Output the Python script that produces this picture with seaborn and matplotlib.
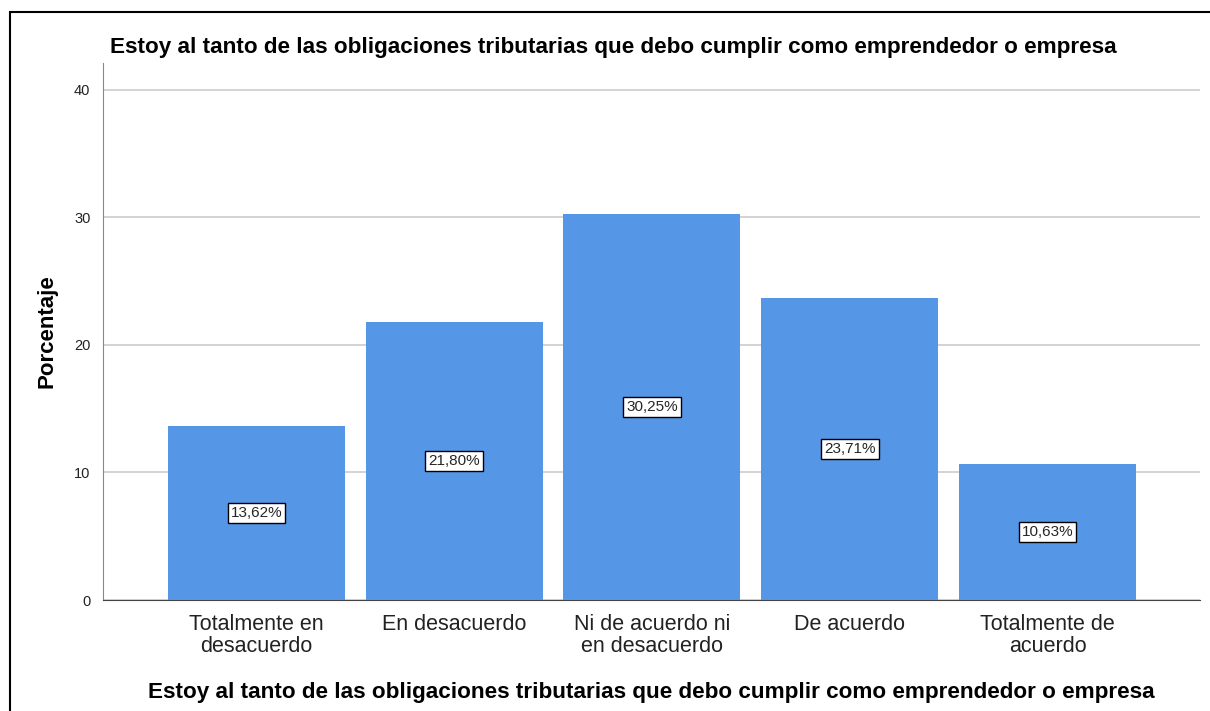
import seaborn as sns
import matplotlib.pyplot as plt
import pandas as pd
from matplotlib.patches import Rectangle

categories = ["Totalmente en\ndesacuerdo", "En desacuerdo", "Ni de acuerdo ni\nen desacuerdo",
              "De acuerdo", "Totalmente de\nacuerdo"]
percentages = [13.62, 21.80, 30.25, 23.71, 10.63]
title = "Estoy al tanto de las obligaciones tributarias que debo cumplir como emprendedor o empresa"

df = pd.DataFrame({"categoria": categories, "porcentaje": percentages})

sns.set_style("white")
plt.rcParams["font.family"] = ["Liberation Sans", "DejaVu Sans"]

fig = plt.figure(figsize=(12.1, 7.11), dpi=100)
ax = fig.add_axes([103 / 1210, 1 - 600 / 711, (1200 - 103) / 1210, (600 - 63) / 711])

sns.barplot(data=df, x="categoria", y="porcentaje", color="#5596e6", saturation=1,
            width=0.895, linewidth=0, ax=ax, zorder=3)

ax.set_ylim(0, 42.1)
ax.set_xlim(-0.776, 4.771)
ax.set_yticks([0, 10, 20, 30, 40])
ax.yaxis.grid(True, color="#cccccc", linewidth=1.2, zorder=0)
ax.set_axisbelow(True)
for s in ["top", "right"]:
    ax.spines[s].set_visible(False)
ax.spines["left"].set_color("#888888")
ax.spines["bottom"].set_color("#444444")
ax.tick_params(axis="y", labelsize=10.5, length=0, pad=9, colors="#222222")
ax.tick_params(axis="x", labelsize=15.5, length=0, pad=10, colors="#222222")
for lbl in ax.get_xticklabels():
    lbl.set_linespacing(1.05)

ax.set_ylabel("Porcentaje", fontsize=16, fontweight="bold", labelpad=12, color="black")
ax.set_xlabel(title, fontsize=16.2, fontweight="bold", labelpad=18, color="black")
ax.set_title(title, fontsize=16.2, fontweight="bold", loc="left", pad=7, x=0.006, color="black")

for i, v in enumerate(percentages):
    ax.text(i, v / 2, f"{v:.2f}%".replace(".", ","), ha="center", va="center", fontsize=11,
            bbox=dict(boxstyle="square,pad=0.2", facecolor="white", edgecolor="black", linewidth=1),
            zorder=5)

fig.patches.append(Rectangle((10 / 1210, -0.1), 1.2, 1.1 - 12 / 711, transform=fig.transFigure,
                             fill=False, edgecolor="black", linewidth=1.5))

fig.savefig("out.png", dpi=100)
